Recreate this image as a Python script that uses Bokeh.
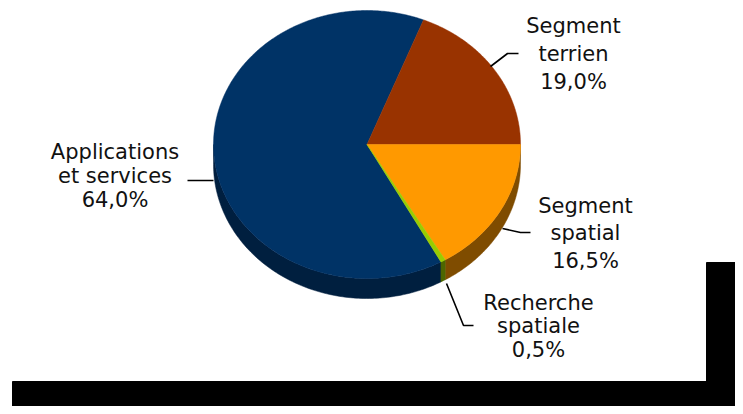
import numpy as np
from bokeh.plotting import figure
from bokeh.models import Range1d
from bokeh.core.properties import value
from bokeh.embed import file_html
from bokeh.resources import INLINE

# ---- data ----
categories = ["Applications et services", "Segment terrien", "Segment spatial", "Recherche spatiale"]
label_lines = [["Applications", "et services"], ["Segment", "terrien"], ["Segment", "spatial"], ["Recherche", "spatiale"]]
shares = [64.0, 19.0, 16.5, 0.5]
top_colors = ["#003366", "#993300", "#FF9900", "#99CC00"]
side_colors = ["#001F3F", "#5C1F00", "#7F4C00", "#4D6600"]

# ---- layout (screen-pixel coordinates of the picture) ----
W, H = 735, 406
cx, cy, rx, ry, depth = 366.5, 144.0, 153.5, 134.0, 20.0
start_deg = 151.2  # clockwise from 12 o'clock, where the first slice begins
font = "DejaVu Sans"
fsize = "21px"
text_dy = -8.0

p = figure(width=W, height=H, output_backend="svg", toolbar_location=None,
           x_range=Range1d(0, W), y_range=Range1d(H, 0),
           min_border=0, border_fill_color="white", background_fill_color="white")
p.axis.visible = False
p.grid.visible = False
p.outline_line_color = None


def pt(deg, dy=0.0):
    r = np.radians(deg)
    return cx + rx * np.sin(r), cy - ry * np.cos(r) + dy


# compute slice angles from the data
total = sum(shares)
angles = []
a = start_deg
for v in shares:
    b = a + v / total * 360.0
    angles.append((a, b))
    a = b

# side faces (visible between 90 and 270 degrees)
side_xs, side_ys, side_c = [], [], []
for (a1, a2), col in zip(angles, side_colors):
    for off in (0, 360, -360):
        lo, hi = max(a1 + off, 90.0), min(a2 + off, 270.0)
        if hi > lo:
            t = np.linspace(lo, hi, 120)
            xt, yt = pt(t)
            xb, yb = pt(t[::-1], depth)
            side_xs.append(list(np.concatenate([xt, xb])))
            side_ys.append(list(np.concatenate([yt, yb])))
            side_c.append(col)
p.patches(side_xs, side_ys, fill_color=side_c, line_color=side_c, line_width=0.5)

# top faces
top_xs, top_ys = [], []
for (a1, a2) in angles:
    t = np.linspace(a1, a2, max(3, int((a2 - a1) * 2)))
    xt, yt = pt(t)
    top_xs.append([cx] + list(xt))
    top_ys.append([cy] + list(yt))
p.patches(top_xs, top_ys, fill_color=top_colors, line_color=top_colors, line_width=0.5)

# leader lines
leaders = [
    ([213, 187], [180, 180]),
    ([490, 507, 518], [66, 53, 53]),
    ([502, 520, 530], [228, 232, 232]),
    ([446, 463, 473], [283, 325, 325]),
]
for lx, ly in leaders:
    p.line(lx, ly, line_color="black", line_width=1.6)

# labels
label_pos = [(114.5, 159.0, 24.0), (573.0, 33.0, 28.0), (585.0, 213.0, 27.5), (538.0, 310.0, 23.5)]
for lines, v, (lx, ly, pitch) in zip(label_lines, shares, label_pos):
    pct = f"{v:.1f}".replace(".", ",") + "%"
    allines = lines + [pct]
    p.text(x=[lx] * len(allines), y=[ly + text_dy + i * pitch for i in range(len(allines))], text=allines,
           text_align="center", text_baseline="alphabetic", text_font=value(font),
           text_font_size=fsize, text_color="#111111")

# black masking shapes
p.quad(left=[12, 706], right=[W + 20, W + 20], top=[381, 262], bottom=[H + 20, H + 20],
       fill_color="black", line_color="black")

open("out.html", "w").write(file_html(p, INLINE))
